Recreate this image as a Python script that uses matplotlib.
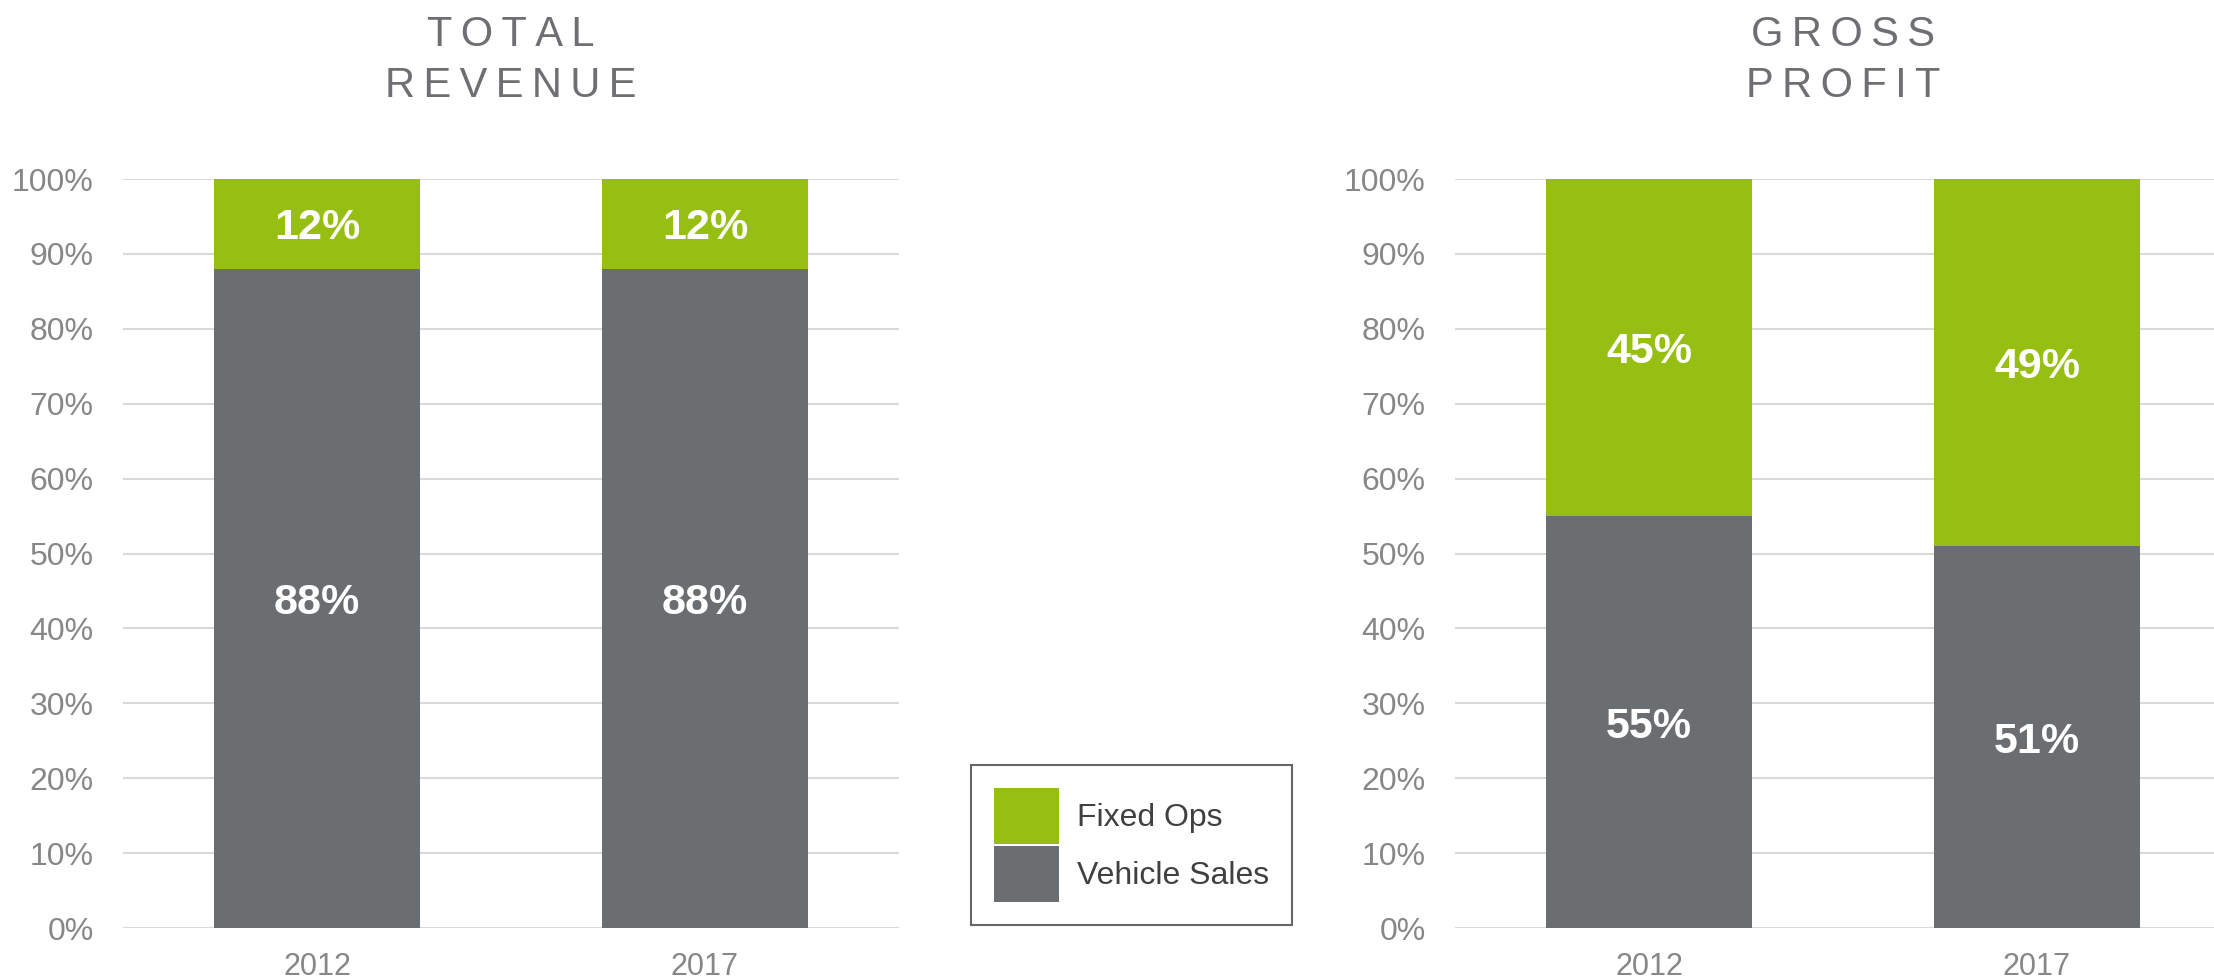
import matplotlib
matplotlib.use("Agg")
import matplotlib.pyplot as plt
from matplotlib.patches import Patch
import numpy as np

plt.rcParams['font.family'] = ['Liberation Sans', 'DejaVu Sans']

years = ["2012", "2017"]
series = ["Fixed Ops", "Vehicle Sales"]

revenue_vehicle = [88, 88]
revenue_fixed = [12, 12]
profit_vehicle = [55, 51]
profit_fixed = [45, 49]

panel_titles = ["TOTAL\nREVENUE", "GROSS\nPROFIT"]

GREEN = "#97bf13"
GRAY = "#6b6e71"
TICK = "#878787"
TITLE = "#6d6f72"


def spaced(title):
    # letter spacing done by hand, matplotlib has no tracking
    return "\n".join("\u2009".join(line) for line in title.split("\n"))


def draw_panel(ax, vehicle, fixed, title):
    x = np.arange(len(years))
    w = 0.53
    ax.bar(x, vehicle, w, color=GRAY, zorder=3)
    ax.bar(x, fixed, w, bottom=vehicle, color=GREEN, zorder=3)

    for xi, v, f in zip(x, vehicle, fixed):
        ax.text(xi, v / 2, f"{v}%", ha="center", va="center_baseline", color="white",
                fontsize=31, fontweight="bold", zorder=4)
        ax.text(xi, v + f / 2, f"{f}%", ha="center", va="center_baseline", color="white",
                fontsize=31, fontweight="bold", zorder=4)

    ax.set_xlim(-0.5, 1.5)
    ax.set_ylim(0, 100)
    ax.set_xticks(x)
    ax.set_xticklabels(years)
    ax.set_yticks(np.arange(0, 101, 10))
    ax.set_yticklabels([f"{t}%" for t in range(0, 101, 10)])
    ax.tick_params(axis="y", length=0, pad=21, labelsize=23, labelcolor=TICK)
    ax.tick_params(axis="x", length=0, pad=17, labelsize=22, labelcolor=TICK)
    ax.grid(axis="y", color="#d9d9d9", linewidth=1.5, zorder=0)
    ax.set_axisbelow(True)
    for s in ax.spines.values():
        s.set_visible(False)

    pos = ax.get_position()
    fig.text(pos.x0 + pos.width / 2, 0.938, spaced(title), ha="center", va="center",
             fontsize=30, color=TITLE, linespacing=1.35, multialignment="center")


fig = plt.figure(figsize=(22.14, 9.8), dpi=100)
ax1 = fig.add_axes([123 / 2214, 52 / 980, 776 / 2214, 749 / 980])
ax2 = fig.add_axes([1455 / 2214, 52 / 980, 776 / 2214, 749 / 980])

draw_panel(ax1, revenue_vehicle, revenue_fixed, panel_titles[0])
draw_panel(ax2, profit_vehicle, profit_fixed, panel_titles[1])

handles = [Patch(facecolor=GREEN, edgecolor="none"), Patch(facecolor=GRAY, edgecolor="none")]
leg = fig.legend(handles, series, loc="lower left",
                 bbox_to_anchor=(971 / 2214, 55 / 980), frameon=True, fancybox=False,
                 fontsize=23, handlelength=2.05, handleheight=2.32, labelspacing=0.05,
                 handletextpad=0.55, borderpad=0.72, borderaxespad=0)
leg.get_frame().set_edgecolor("#404040")
leg.get_frame().set_linewidth(1.5)
for t in leg.get_texts():
    t.set_color("#404040")

fig.savefig("out.png", dpi=100)
